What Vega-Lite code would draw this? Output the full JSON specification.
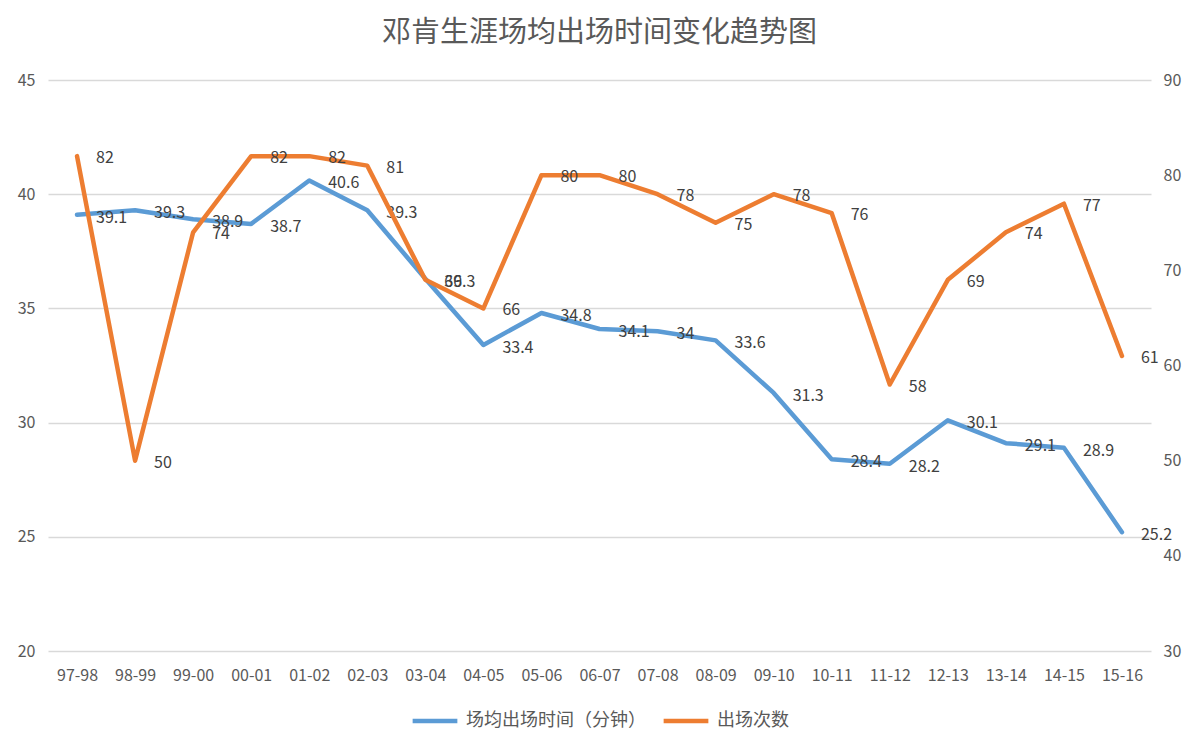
{
  "$schema": "https://vega.github.io/schema/vega-lite/v6.json",
  "autosize": "none",
  "width": 1103,
  "height": 571,
  "padding": {"left": 48, "top": 80, "right": 47, "bottom": 100},
  "background": "white",
  "config": {
    "font": "Noto Sans CJK SC",
    "view": {"stroke": null},
    "axis": {"labelFont": "Noto Sans CJK SC", "labelColor": "#595959", "labelFontSize": 16}
  },
  "title": {
    "text": "邓肯生涯场均出场时间变化趋势图",
    "frame": "group",
    "anchor": "middle",
    "fontSize": 29,
    "fontWeight": "normal",
    "color": "#595959",
    "offset": 24
  },
  "data": {
    "values": [
      {"season": "97-98", "minutes": 39.1, "games": 82},
      {"season": "98-99", "minutes": 39.3, "games": 50},
      {"season": "99-00", "minutes": 38.9, "games": 74},
      {"season": "00-01", "minutes": 38.7, "games": 82},
      {"season": "01-02", "minutes": 40.6, "games": 82},
      {"season": "02-03", "minutes": 39.3, "games": 81},
      {"season": "03-04", "minutes": 36.3, "games": 69},
      {"season": "04-05", "minutes": 33.4, "games": 66},
      {"season": "05-06", "minutes": 34.8, "games": 80},
      {"season": "06-07", "minutes": 34.1, "games": 80},
      {"season": "07-08", "minutes": 34, "games": 78},
      {"season": "08-09", "minutes": 33.6, "games": 75},
      {"season": "09-10", "minutes": 31.3, "games": 78},
      {"season": "10-11", "minutes": 28.4, "games": 76},
      {"season": "11-12", "minutes": 28.2, "games": 58},
      {"season": "12-13", "minutes": 30.1, "games": 69},
      {"season": "13-14", "minutes": 29.1, "games": 74},
      {"season": "14-15", "minutes": 28.9, "games": 77},
      {"season": "15-16", "minutes": 25.2, "games": 61}
    ]
  },
  "encoding": {
    "x": {
      "field": "season",
      "type": "ordinal",
      "sort": null,
      "scale": {"type": "point", "padding": 0.5},
      "axis": {"title": null, "domain": false, "ticks": false, "labelAngle": 0, "labelPadding": 16, "grid": false}
    }
  },
  "layer": [
    {
      "layer": [
        {
          "mark": {"type": "line", "strokeWidth": 4.5, "strokeJoin": "round", "strokeCap": "round"},
          "encoding": {
            "y": {
              "field": "minutes",
              "type": "quantitative",
              "scale": {"domain": [20, 45], "nice": false, "zero": false},
              "axis": {"title": null, "values": [20, 25, 30, 35, 40, 45], "domain": false, "ticks": false, "grid": true, "gridColor": "#D9D9D9", "gridWidth": 1.5, "labelPadding": 13}
            },
            "color": {
              "datum": "场均出场时间（分钟）",
              "type": "nominal",
              "scale": {"domain": ["场均出场时间（分钟）", "出场次数"], "range": ["#5B9BD5", "#ED7D31"]},
              "legend": {
                "title": null,
                "orient": "none",
                "direction": "horizontal",
                "legendX": 362,
                "legendY": 616,
                "symbolType": "stroke",
                "symbolSize": 2000,
                "symbolStrokeWidth": 4.5,
                "labelFontSize": 18,
                "labelLimit": 400,
                "labelColor": "#595959",
                "labelFont": "Noto Sans CJK SC",
                "columnPadding": 8,
                "labelOffset": 6
              }
            }
          }
        },
        {
          "mark": {"type": "text", "align": "left", "baseline": "middle", "dx": 19, "dy": 3, "fontSize": 16, "color": "#404040"},
          "encoding": {
            "y": {"field": "minutes", "type": "quantitative"},
            "text": {"field": "minutes", "type": "quantitative"}
          }
        }
      ]
    },
    {
      "layer": [
        {
          "mark": {"type": "line", "strokeWidth": 4.5, "strokeJoin": "round", "strokeCap": "round"},
          "encoding": {
            "y": {
              "field": "games",
              "type": "quantitative",
              "scale": {"domain": [30, 90], "nice": false, "zero": false},
              "axis": {"title": null, "orient": "right", "values": [30, 40, 50, 60, 70, 80, 90], "domain": false, "ticks": false, "grid": false, "labelPadding": 12}
            },
            "color": {"datum": "出场次数", "type": "nominal"}
          }
        },
        {
          "mark": {"type": "text", "align": "left", "baseline": "middle", "dx": 19, "dy": 2, "fontSize": 16, "color": "#404040"},
          "encoding": {
            "y": {"field": "games", "type": "quantitative"},
            "text": {"field": "games", "type": "quantitative"}
          }
        }
      ]
    }
  ],
  "resolve": {"scale": {"y": "independent"}}
}
